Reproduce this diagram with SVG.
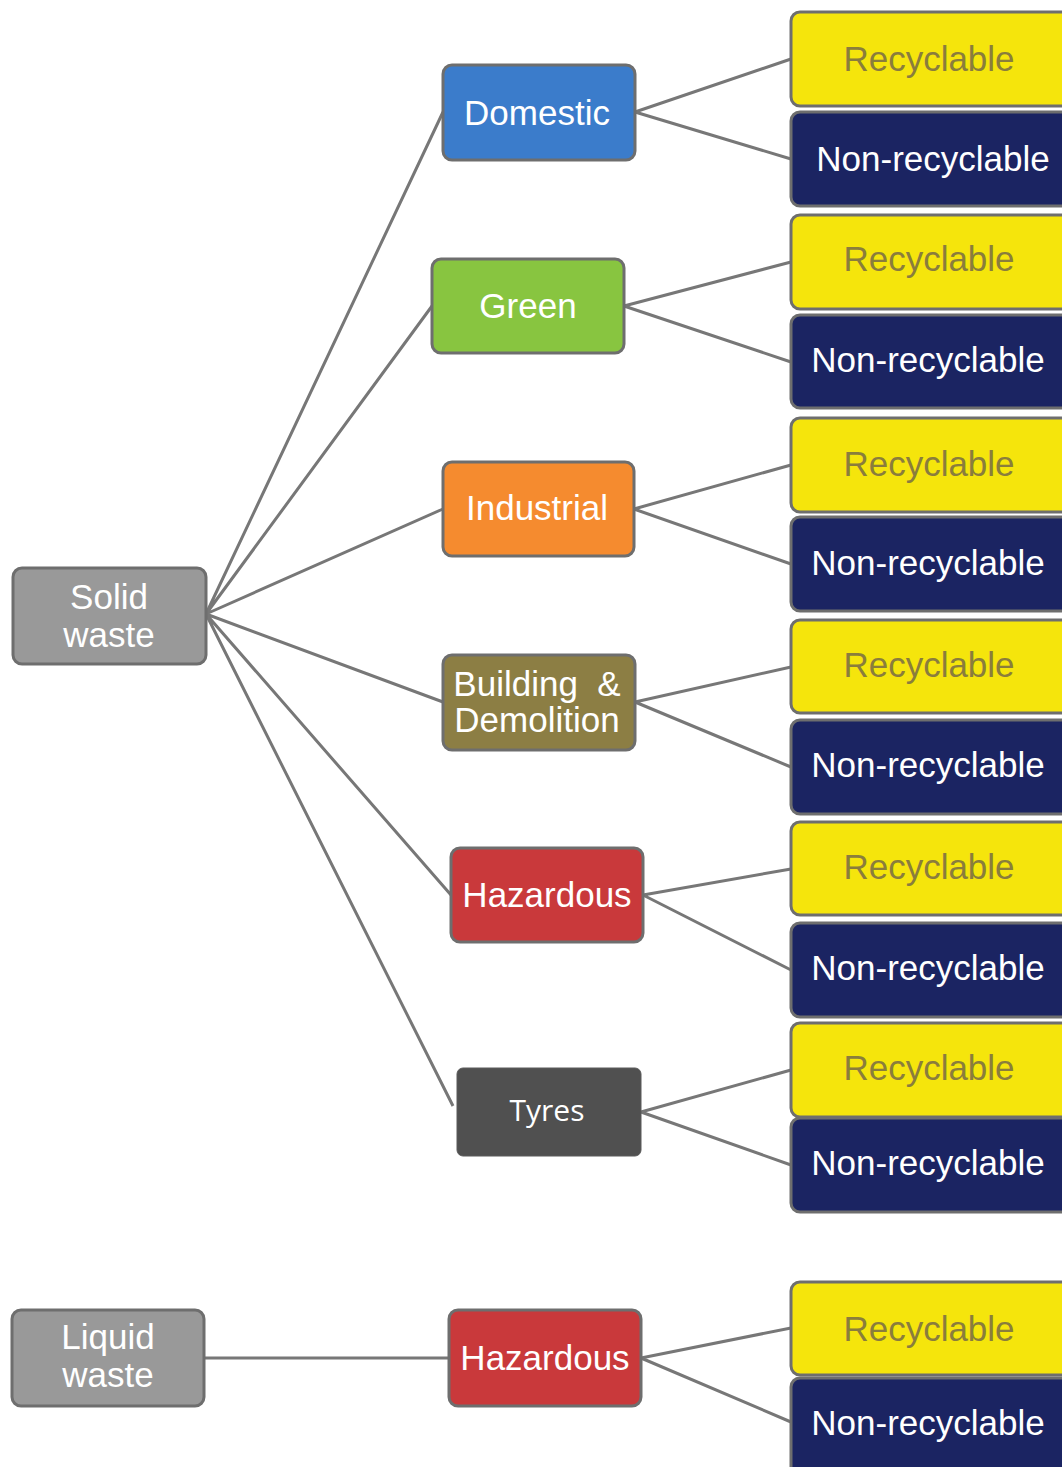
<svg xmlns="http://www.w3.org/2000/svg" width="1062" height="1467" viewBox="0 0 1062 1467">
<style>
.box{stroke:#6e6e6e;stroke-width:3}
.t{font-family:"Liberation Sans",Arial,sans-serif;font-size:35px;text-anchor:middle;fill:#fff}
.rec{fill:#f5e50c}
.rt{fill:#8a7d3c}
.non{fill:#1b2462}
.ln{stroke:#777;stroke-width:3;fill:none}
</style>
<rect width="1062" height="1467" fill="#fff"/>
<g id="connectors">
<path class="ln" d="M206 614L443 112M206 614L432 306M206 614L443 509M206 614L443 702M206 614L451 895M206 614L453 1106"/>
<path class="ln" d="M204 1358L449 1358"/>
<path class="ln" d="M635 112L791 59M635 112L791 159"/>
<path class="ln" d="M624 306L791 262M624 306L791 362"/>
<path class="ln" d="M634 509L791 465M634 509L791 564"/>
<path class="ln" d="M635 702L791 667M635 702L791 767"/>
<path class="ln" d="M643 895L791 869M643 895L791 970"/>
<path class="ln" d="M641 1112L791 1070M641 1112L791 1165"/>
<path class="ln" d="M641 1358L791 1328M641 1358L791 1422"/>
</g>
<g id="solid-waste"><rect class="box" x="13" y="568" width="193" height="96" rx="9" fill="#999"/><text class="t" x="109" y="609">Solid</text><text class="t" x="109" y="647">waste</text></g>
<g id="liquid-waste"><rect class="box" x="12" y="1310" width="192" height="96" rx="9" fill="#999"/><text class="t" x="108" y="1349">Liquid</text><text class="t" x="108" y="1387">waste</text></g>
<g id="domestic"><rect class="box" x="443" y="65" width="192" height="95" rx="9" fill="#3b7ccb"/><text class="t" x="537" y="125">Domestic</text></g>
<g id="green"><rect class="box" x="432" y="259" width="192" height="94" rx="9" fill="#88c540"/><text class="t" x="528" y="318">Green</text></g>
<g id="industrial"><rect class="box" x="443" y="462" width="191" height="94" rx="9" fill="#f58b2f"/><text class="t" x="537" y="520">Industrial</text></g>
<g id="building-demolition"><rect class="box" x="443" y="655" width="192" height="95" rx="9" fill="#8c7e44"/><text class="t" x="537" y="696" xml:space="preserve">Building  &amp;</text><text class="t" x="537" y="732">Demolition</text></g>
<g id="hazardous-solid"><rect class="box" x="451" y="848" width="192" height="94" rx="9" fill="#c9393b"/><text class="t" x="547" y="907">Hazardous</text></g>
<g id="tyres"><rect x="457" y="1068" width="184" height="88" rx="6" fill="#505050" stroke="#5a5a5a" stroke-width="1"/><text x="547" y="1121" style="font-family:'Open Sans',sans-serif;font-size:30px;text-anchor:middle;fill:#fff">Tyres</text></g>
<g id="hazardous-liquid"><rect class="box" x="449" y="1310" width="192" height="96" rx="9" fill="#c9393b"/><text class="t" x="545" y="1370">Hazardous</text></g>
<g id="rec1"><rect class="box rec" x="791" y="12" width="290" height="94" rx="9"/><text class="t rt" x="929" y="71">Recyclable</text></g>
<g id="non1"><rect class="box non" x="791" y="112" width="290" height="94" rx="9"/><text class="t" x="933" y="171">Non-recyclable</text></g>
<g id="rec2"><rect class="box rec" x="791" y="215" width="290" height="94" rx="9"/><text class="t rt" x="929" y="271">Recyclable</text></g>
<g id="non2"><rect class="box non" x="791" y="315" width="290" height="93" rx="9"/><text class="t" x="928" y="372">Non-recyclable</text></g>
<g id="rec3"><rect class="box rec" x="791" y="418" width="290" height="94" rx="9"/><text class="t rt" x="929" y="476">Recyclable</text></g>
<g id="non3"><rect class="box non" x="791" y="517" width="290" height="94" rx="9"/><text class="t" x="928" y="575">Non-recyclable</text></g>
<g id="rec4"><rect class="box rec" x="791" y="620" width="290" height="93" rx="9"/><text class="t rt" x="929" y="677">Recyclable</text></g>
<g id="non4"><rect class="box non" x="791" y="720" width="290" height="94" rx="9"/><text class="t" x="928" y="777">Non-recyclable</text></g>
<g id="rec5"><rect class="box rec" x="791" y="822" width="290" height="93" rx="9"/><text class="t rt" x="929" y="879">Recyclable</text></g>
<g id="non5"><rect class="box non" x="791" y="923" width="290" height="94" rx="9"/><text class="t" x="928" y="980">Non-recyclable</text></g>
<g id="rec6"><rect class="box rec" x="791" y="1023" width="290" height="94" rx="9"/><text class="t rt" x="929" y="1080">Recyclable</text></g>
<g id="non6"><rect class="box non" x="791" y="1118" width="290" height="94" rx="9"/><text class="t" x="928" y="1175">Non-recyclable</text></g>
<g id="rec7"><rect class="box rec" x="791" y="1282" width="290" height="93" rx="9"/><text class="t rt" x="929" y="1341">Recyclable</text></g>
<g id="non7"><rect class="box non" x="791" y="1378" width="290" height="100" rx="9"/><text class="t" x="928" y="1435">Non-recyclable</text></g>
</svg>
